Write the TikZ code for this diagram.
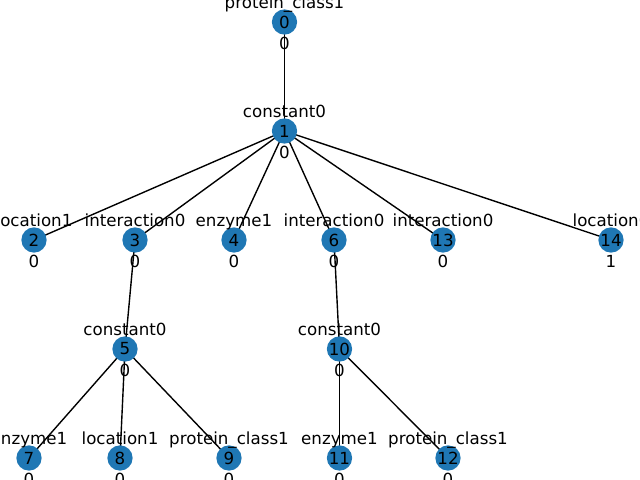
\documentclass[tikz,border=0pt]{standalone}
\usepackage{fontspec}
\setmainfont{DejaVu Sans}
\usetikzlibrary{backgrounds}
\definecolor{nodeblue}{HTML}{1F77B4}
\tikzset{
  vertex/.style={circle, fill=nodeblue, draw=none, minimum size=18.2pt, inner sep=0pt,
                 font=\fontsize{12}{14}\selectfont, text=black},
  namelbl/.style={anchor=base, inner sep=0pt, font=\fontsize{12}{14}\selectfont},
  vallbl/.style={anchor=base, inner sep=0pt, font=\fontsize{12}{14}\selectfont},
  edge/.style={draw=black, line width=1pt}
}
\begin{document}
\begin{tikzpicture}[x=0.72pt, y=-0.72pt]
  \useasboundingbox (0,0) rectangle (640,480);
  % vertices: id / x / y / name / value
  \foreach \id/\px/\py/\nm/\vl in {
      0/284.5/22/protein\_class1/0,
      1/284.5/131/constant0/0,
      2/34/240/location1/0,
      3/135/240/interaction0/0,
      4/234/240/enzyme1/0,
      6/334/240/interaction0/0,
      13/443/240/interaction0/0,
      14/611/240/location0/1,
      5/125/349/constant0/0,
      10/339.5/349/constant0/0,
      7/29/458/enzyme1/0,
      8/120/458/location1/0,
      9/229/458/protein\_class1/0,
      11/339.5/458/enzyme1/0,
      12/448/458/protein\_class1/0}{
    \node[vertex] (n\id) at (\px,\py) {\id};
    \node[namelbl] (t\id) at (\px,\py-14) {\nm};
    \node[vallbl] (v\id) at (\px,\py+27) {\vl};
  }
  % tree edges, drawn beneath the vertices
  \begin{pgfonlayer}{background}
    \foreach \a/\b in {0/1, 1/2, 1/3, 1/4, 1/6, 1/13, 1/14,
                       3/5, 5/7, 5/8, 5/9, 6/10, 10/11, 10/12}{
      \draw[edge] (n\a.center) -- (n\b.center);
    }
  \end{pgfonlayer}
\end{tikzpicture}
\end{document}
